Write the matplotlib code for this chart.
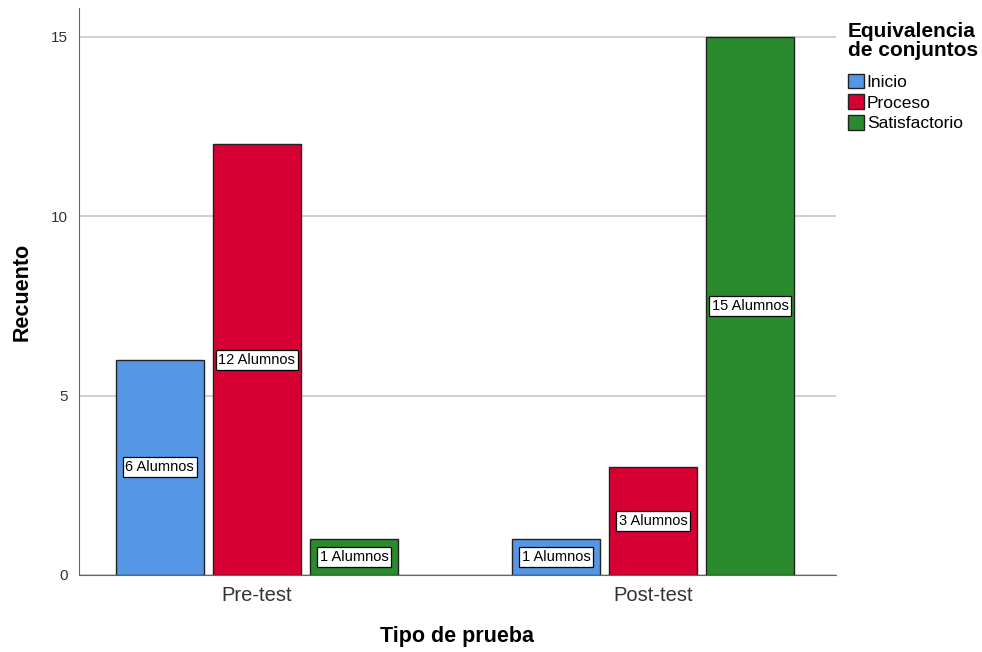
import numpy as np
import matplotlib.pyplot as plt
from matplotlib.patches import Patch

plt.rcParams['font.family'] = ['Liberation Sans', 'DejaVu Sans']

# datos
grupos = ['Pre-test', 'Post-test']
niveles = ['Inicio', 'Proceso', 'Satisfactorio']
conteos = {
    'Inicio': [6, 1],
    'Proceso': [12, 3],
    'Satisfactorio': [1, 15],
}
colores = ['#5596e5', '#d60033', '#2a8a2e']

fig = plt.figure(figsize=(9.82, 6.52), dpi=100)
ax = fig.add_axes([79/982, 1-575/652, (836-79)/982, (575-8)/652])

x = np.arange(len(grupos))
ancho = 0.222
paso = 0.245
for i, (niv, col) in enumerate(zip(niveles, colores)):
    vals = conteos[niv]
    xs = x + (i-1)*paso
    ax.bar(xs, vals, ancho, color=col, edgecolor='#222222', linewidth=1, zorder=3)
    for xi, v in zip(xs, vals):
        ax.text(xi, v/2, f'{v} Alumnos', ha='center', va='center', fontsize=10.5, zorder=4,
                bbox=dict(boxstyle='square,pad=0.2', fc='white', ec='black', lw=0.9))

ax.set_xlim(-0.449, 1.462)
ax.set_ylim(0, 15.8)
ax.set_yticks([0, 5, 10, 15])
ax.set_xticks(x)
ax.set_xticklabels(grupos, fontsize=14.5)
ax.tick_params(axis='y', labelsize=11, length=0, pad=8, colors='#333333')
ax.tick_params(axis='x', length=0, pad=8, colors='#333333')
ax.yaxis.grid(True, color='#c8c8c8', linewidth=1.2, zorder=0)
for s in ['top', 'right']:
    ax.spines[s].set_visible(False)
ax.spines['left'].set_color('#666666')
ax.spines['bottom'].set_color('#666666')

ax.set_ylabel('Recuento', fontsize=15.5, fontweight='bold', va='center')
ax.yaxis.set_label_coords(-0.075, 0.5)
ax.set_xlabel('Tipo de prueba', fontsize=15.5, fontweight='bold', va='center')
ax.xaxis.set_label_coords(0.5, -0.109)

handles = [Patch(facecolor=c, edgecolor='#222222', label=n) for n, c in zip(niveles, colores)]
leg = fig.legend(handles=handles, title='Equivalencia\nde conjuntos', loc='upper left',
                 bbox_to_anchor=(832/982, 1-6/652), frameon=False, fontsize=12.5,
                 title_fontproperties={'weight': 'bold', 'size': 15},
                 handlelength=0.95, handleheight=0.95, handletextpad=0.15, labelspacing=0.24)
leg._legend_box.align = 'left'
leg.get_title().set_linespacing(1.0)
leg._legend_box.sep = 10

fig.savefig('out.png', dpi=100)
